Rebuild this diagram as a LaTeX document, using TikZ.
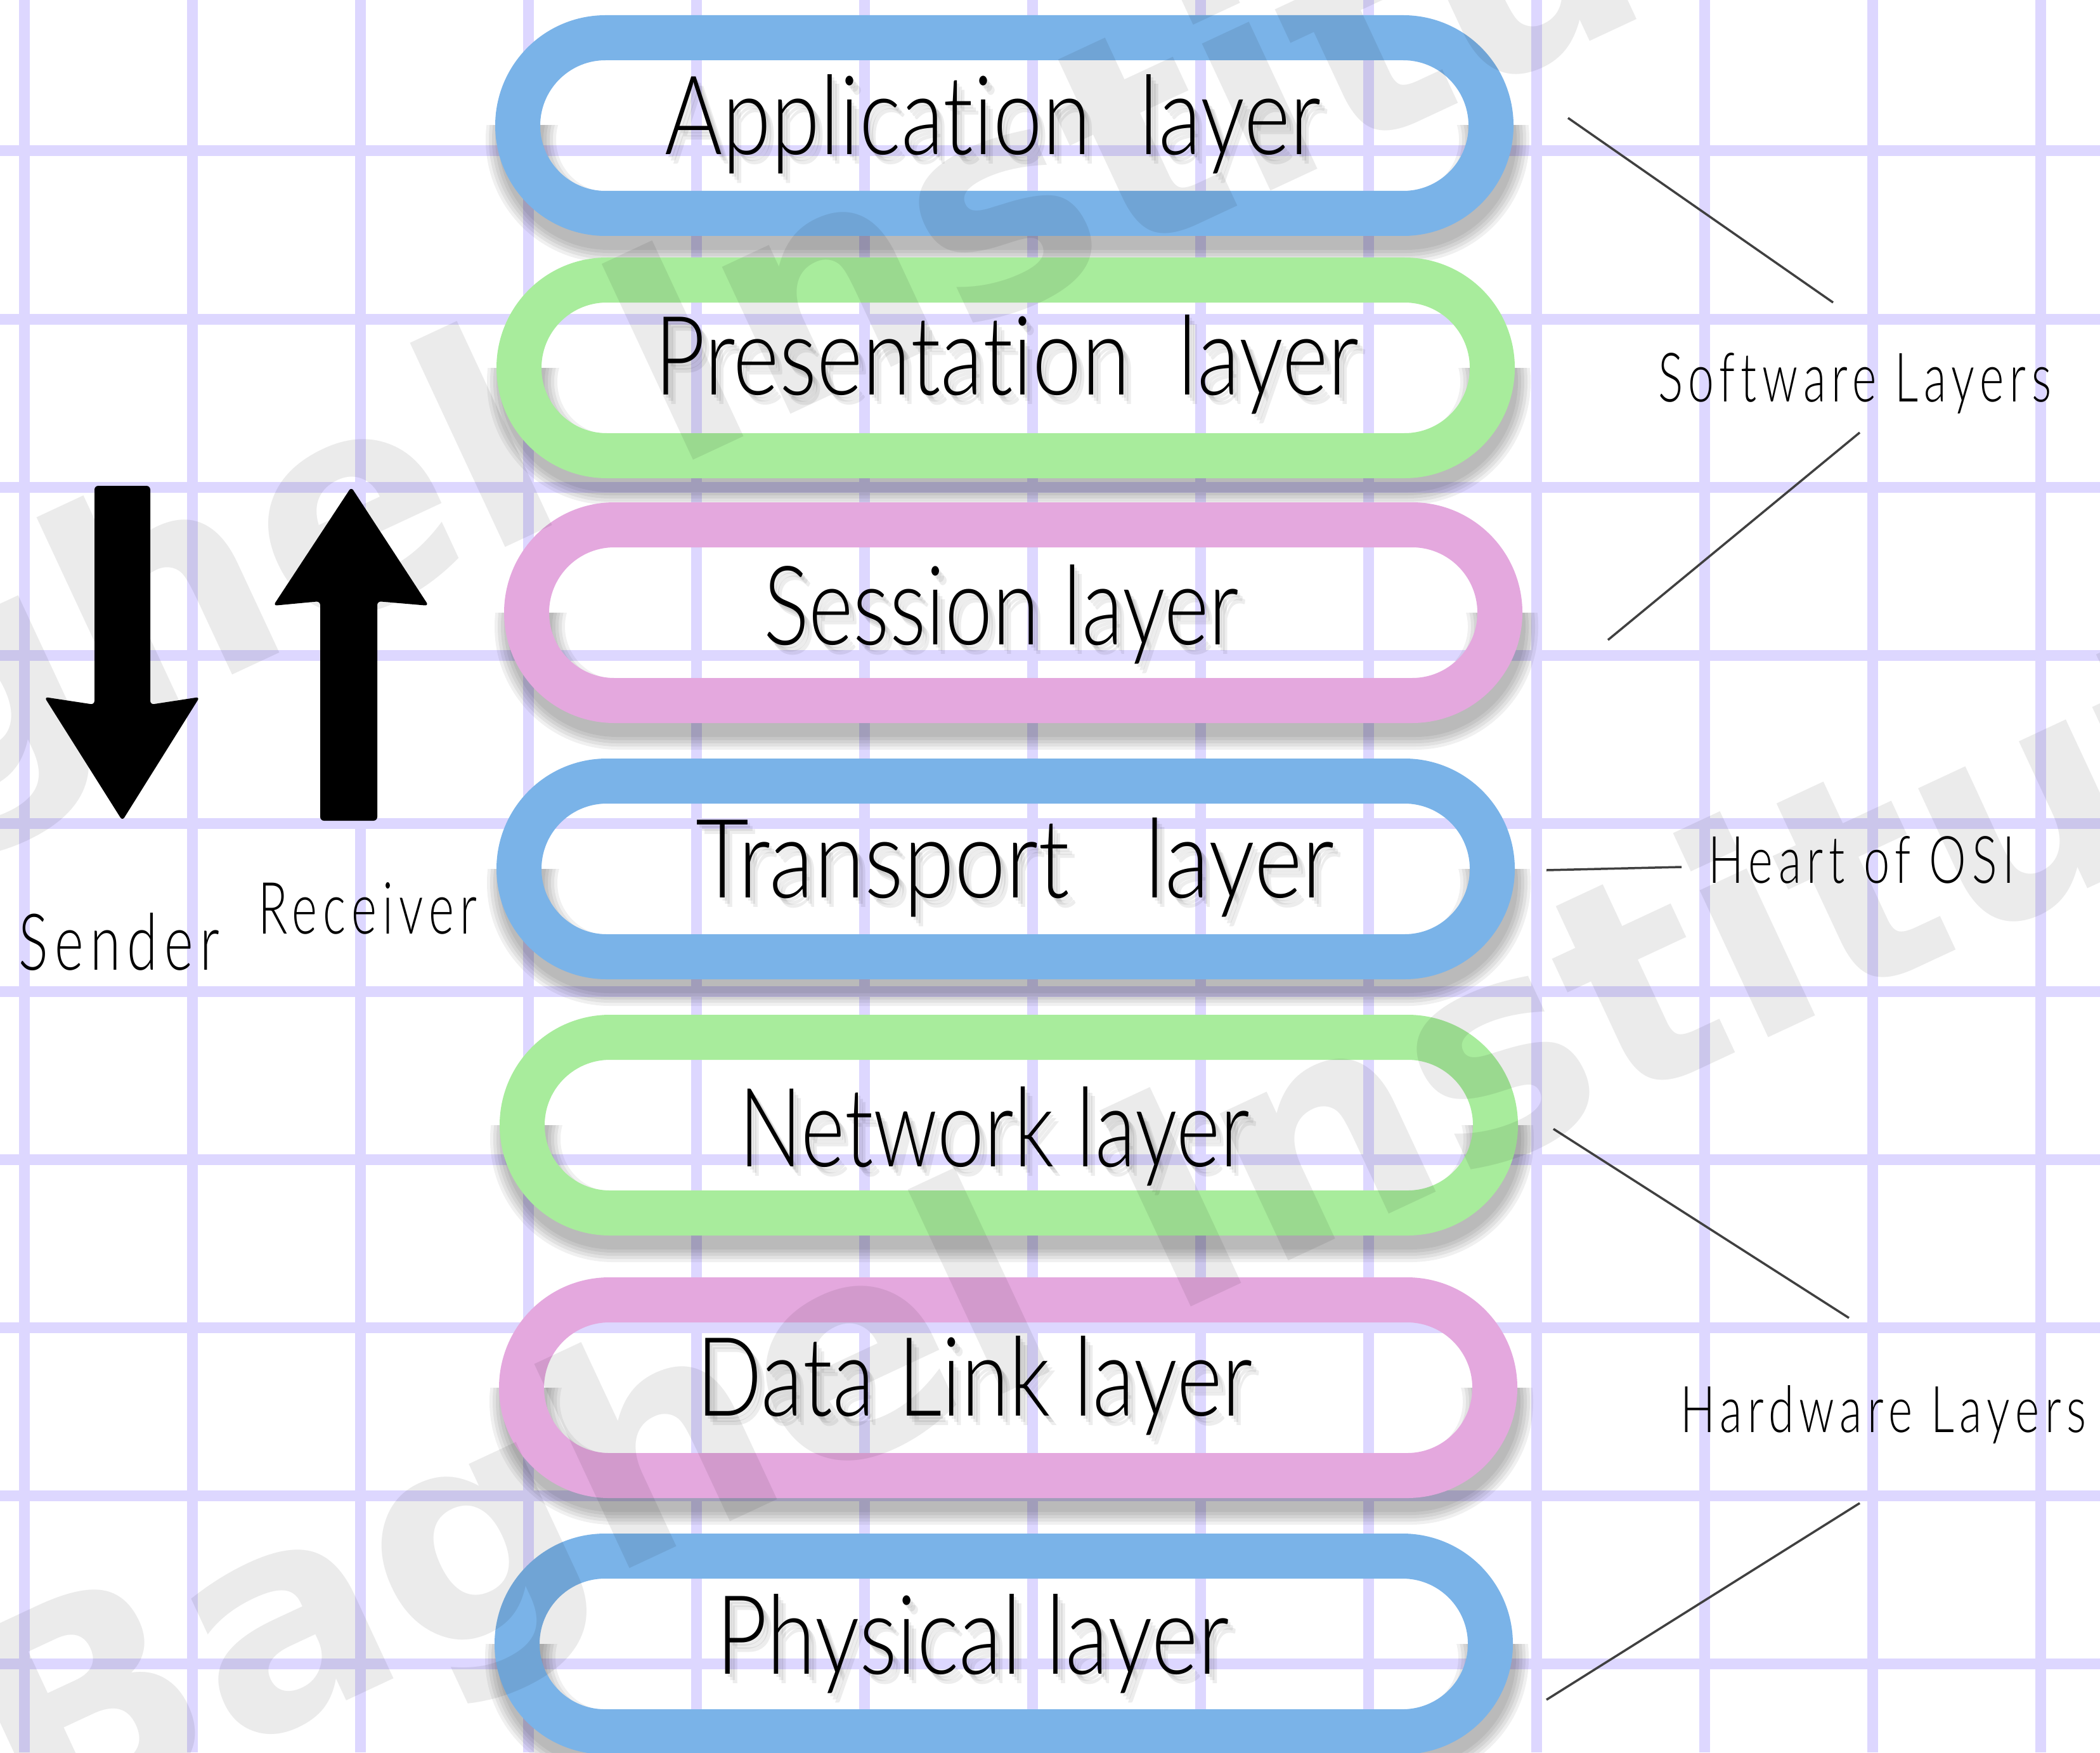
\documentclass[tikz,border=0pt]{standalone}
\usepackage{fontspec}
\usetikzlibrary{shapes.misc}

\newfontfamily\layerfont{Lato Light}[Ligatures=NoCommon]
\newfontfamily\notefont{Lato Light}[Ligatures=NoCommon,LetterSpace=12]
\newfontfamily\markfont{DejaVu Sans}

\definecolor{gridline}{RGB}{221,215,255}
\definecolor{pillblue}{RGB}{122,179,232}
\definecolor{pillgreen}{RGB}{168,236,156}
\definecolor{pillpink}{RGB}{228,168,222}

\tikzset{
  pill/.style={rounded rectangle, draw=#1, line width=0.71cm,
    minimum width=15.35cm, minimum height=2.77cm, inner sep=0pt},
  pillshade/.style={rounded rectangle, draw=black, line width=#1, opacity=0.06,
    minimum width=15.35cm, minimum height=2.77cm, inner sep=0pt},
  layertext/.style={font=\layerfont\fontsize{40}{40}\selectfont, inner sep=0pt, anchor=base},
  note/.style={font=\notefont\fontsize{28}{28}\selectfont, inner sep=0pt, anchor=base},
  leader/.style={draw=black!75, line width=0.035cm},
  blockarrow/.style={fill=black, rounded corners=0.06cm},
  watermark/.style={font=\markfont\bfseries\fontsize{133}{133}\selectfont, text=black,
    opacity=0.08, rotate=25, anchor=base west, inner sep=0pt},
}

\begin{document}
\begin{tikzpicture}[y=-1cm]
  \useasboundingbox (0,0) rectangle (33.12,27.63);
  \clip (0,0) rectangle (33.12,27.63);
  \fill[white] (0,0) rectangle (33.12,27.63);

  % squared paper
  \foreach \gx in {0,...,12}
    \draw[gridline, line width=0.17cm] ({0.38+2.65*\gx},0) -- ({0.38+2.65*\gx},27.63);
  \foreach \gy in {0,...,9}
    \draw[gridline, line width=0.17cm] (0,{2.38+2.65*\gy}) -- (33.12,{2.38+2.65*\gy});

  % soft shadow under each pill (lower half only)
  \foreach \px/\py in {15.84/1.98, 15.86/5.80, 15.98/9.66, 15.86/13.70, 15.91/17.74, 15.90/21.88, 15.83/25.92} {
    \begin{scope}
      \clip ({\px-9},\py) rectangle ({\px+9},{\py+3});
      \foreach \k in {0,...,4}
        \node[pillshade={0.71cm+0.1cm*\k}] at ({\px+0.05},{\py+0.22}) {};
    \end{scope}
  }

  % the seven layers
  \node[pill=pillblue]  (app)   at (15.84,1.98)  {};
  \node[pill=pillgreen] (pres)  at (15.86,5.80)  {};
  \node[pill=pillpink]  (sess)  at (15.98,9.66)  {};
  \node[pill=pillblue]  (trans) at (15.86,13.70) {};
  \node[pill=pillgreen] (net)   at (15.91,17.74) {};
  \node[pill=pillpink]  (dl)    at (15.90,21.88) {};
  \node[pill=pillblue]  (phys)  at (15.83,25.92) {};

  % labels, each with a blurred drop shadow
  \foreach \nm/\tx/\ty/\tw/\txt in {app/15.66/2.44/10.35/{Application\ \ layer},
      pres/15.88/6.22/11.10/{Presentation\ \ layer}, sess/15.79/10.16/7.50/{Session layer},
      trans/16.01/14.15/10.07/{Transport\ \ \ layer}, net/15.68/18.39/8.05/{Network layer},
      dl/15.37/22.32/8.77/{Data Link layer}, phys/15.34/26.39/8.09/{Physical layer}} {
    \foreach \d in {1,2,3}
      \node[layertext, opacity=0.07] at ({\tx+0.04*\d},{\ty+0.05*\d})
        {\resizebox{\tw cm}{1.26cm}{\txt}};
    \node[layertext] (\nm-text) at (\tx,\ty) {\resizebox{\tw cm}{1.26cm}{\txt}};
  }

  % sender / receiver
  \fill[blockarrow] (1.49,7.66) -- (2.37,7.66) -- (2.37,11.11) -- (3.15,10.99)
    -- (1.93,12.94) -- (0.70,10.99) -- (1.49,11.11) -- cycle;
  \fill[blockarrow] (5.05,12.94) -- (5.05,9.48) -- (4.31,9.55) -- (5.54,7.68)
    -- (6.76,9.55) -- (5.95,9.48) -- (5.95,12.94) -- cycle;
  \node[note] (sender)   at (1.88,15.29) {\resizebox{3.17cm}{0.90cm}{Sender}};
  \node[note] (receiver) at (5.80,14.72) {\resizebox{3.45cm}{0.81cm}{Receiver}};

  % groupings on the right
  \node[note] (software) at (29.25,6.33)  {\resizebox{6.20cm}{0.77cm}{Software Layers}};
  \node[note] (heart)    at (29.36,13.92) {\resizebox{4.84cm}{0.74cm}{Heart of OSI}};
  \node[note] (hardware) at (29.70,22.58) {\resizebox{6.40cm}{0.74cm}{Hardware Layers}};

  \coordinate (sw-a) at (24.73,1.86);  \coordinate (sw-b) at (28.91,4.77);
  \coordinate (sw-c) at (29.33,6.82);  \coordinate (sw-d) at (25.36,10.09);
  \coordinate (ht-a) at (24.39,13.72); \coordinate (ht-b) at (26.52,13.67);
  \coordinate (hw-a) at (24.50,17.80); \coordinate (hw-b) at (29.16,20.78);
  \coordinate (hw-c) at (29.33,23.70); \coordinate (hw-d) at (24.39,26.80);

  \draw[leader] (sw-a) -- (sw-b);
  \draw[leader] (sw-c) -- (sw-d);
  \draw[leader] (ht-a) -- (ht-b);
  \draw[leader] (hw-a) -- (hw-b);
  \draw[leader] (hw-c) -- (hw-d);

  % faint watermark
  \node[watermark] (mark-top)    at (-7.40,15.80) {Baghel Institute};
  \node[watermark] (mark-bottom) at (0.45,29.15)  {Baghel Institute};
\end{tikzpicture}
\end{document}
